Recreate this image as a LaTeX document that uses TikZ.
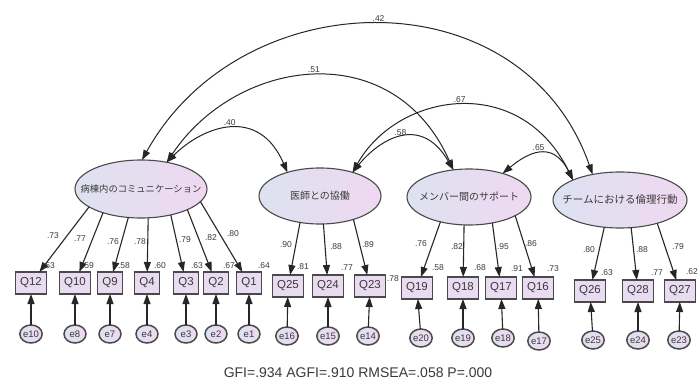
\documentclass[tikz,border=0pt]{standalone}
\usepackage{fontspec}
\setmainfont{Liberation Sans}
\newfontfamily\jfont{Noto Sans CJK JP}
\usetikzlibrary{shapes.geometric,arrows.meta,calc}
\definecolor{txt}{HTML}{3A3A3A}
\definecolor{edgec}{HTML}{4A4A4A}
\definecolor{lblue}{HTML}{DDE2F0}
\definecolor{lpink}{HTML}{EFD8F1}
\definecolor{boxfill}{HTML}{EADCF0}
\begin{document}
\begin{tikzpicture}[x=1pt,y=-1pt,
 latent/.style={ellipse,draw=edgec,line width=1.1pt,left color=lblue,right color=lpink,inner sep=0pt,outer sep=0pt},
 lattext/.style={font=\jfont\fontsize{10}{12}\selectfont,text=txt},
 obs/.style={rectangle,draw=edgec,line width=1.6pt,fill=boxfill,minimum height=22pt,inner xsep=4.8pt,inner ysep=0pt,outer sep=0pt,font=\fontsize{11.5}{13}\selectfont,text=txt},
 err/.style={ellipse,draw=edgec,line width=1.5pt,left color=lblue,right color=lpink,minimum width=22pt,minimum height=18pt,inner sep=0pt,outer sep=0pt,font=\fontsize{9.5}{10}\selectfont,text=txt},
 load/.style={draw=black!85,line width=1.1pt,-{Triangle[length=10pt,width=7pt]}},
 cov/.style={draw=black!85,line width=1pt,{Triangle[length=10pt,width=7pt]}-{Triangle[length=10pt,width=7pt]}},
 num/.style={font=\fontsize{8.5}{10}\selectfont,text=txt,inner sep=0pt},
]
\useasboundingbox (0,0) rectangle (699,385);
\fill[white] (0,0) rectangle (699,385);

% latent variables
\node[latent,minimum width=132pt,minimum height=58pt] (L1) at (141,189) {};
\node[lattext,font=\jfont\fontsize{9.3}{12}\selectfont] at (L1) {病棟内のコミュニケーション};
\node[latent,minimum width=122pt,minimum height=56pt] (L2) at (320,196) {};
\node[lattext] at (L2) {医師との協働};
\node[latent,minimum width=124pt,minimum height=56pt] (L3) at (469,197) {};
\node[lattext] at (L3) {メンバー間のサポート};
\node[latent,minimum width=134pt,minimum height=56pt] (L4) at (620,200) {};
\node[lattext,font=\jfont\fontsize{10.5}{12}\selectfont] at (L4) {チームにおける倫理行動};

% observed variables
\foreach \n/\x in {Q12/31,Q10/75,Q9/110,Q4/147,Q3/186,Q2/216,Q1/249}
  \node[obs] (\n) at (\x,283) {\n};
\foreach \n/\x in {Q25/288,Q24/328,Q23/370}
  \node[obs] (\n) at (\x,286) {\n};
\foreach \n/\x in {Q19/417,Q18/463,Q17/501,Q16/538}
  \node[obs] (\n) at (\x,288) {\n};
\foreach \n/\x in {Q26/590,Q28/638,Q27/680}
  \node[obs] (\n) at (\x,291) {\n};

% errors
\foreach \n/\x in {e10/31,e8/75,e7/110,e4/147,e3/186,e2/216,e1/249}
  \node[err] (\n) at (\x,334) {\n};
\foreach \n/\x in {e16/287,e15/328,e14/368}
  \node[err] (\n) at (\x,336) {\n};
\foreach \n/\x/\y in {e20/421/338,e19/463/338,e18/503/338,e17/539/341}
  \node[err] (\n) at (\x,\y) {\n};
\foreach \n/\x in {e25/593,e24/638,e23/679}
  \node[err] (\n) at (\x,340) {\n};

% error arrows
\foreach \e/\q in {e10/Q12,e8/Q10,e7/Q9,e4/Q4,e3/Q3,e2/Q2,e1/Q1,e16/Q25,e15/Q24,e14/Q23,e20/Q19,e19/Q18,e18/Q17,e17/Q16,e25/Q26,e24/Q28,e23/Q27}
  \draw[load] (\e) -- (\q);

% loadings
\draw[load] (L1.-161.9) -- (Q12);
\draw[load] (L1.-148) -- (Q10);
\draw[load] (L1.-114.6) -- (Q9);
\draw[load] (L1.-76.4) -- (Q4);
\draw[load] (L1.-41.9) -- (Q3);
\draw[load] (L1.-24.3) -- (Q2);
\draw[load] (L1.-12.4) -- (Q1);
\draw[load] (L2.-127) -- (Q25);
\draw[load] (L2.-83.9) -- (Q24);
\draw[load] (L2.-35.5) -- (Q23);
\draw[load] (L3.-139.5) -- (Q19);
\draw[load] (L3.-100.2) -- (Q18);
\draw[load] (L3.-48.5) -- (Q17);
\draw[load] (L3.-22.2) -- (Q16);
\draw[load] (L4.-120.5) -- (Q26);
\draw[load] (L4.-68.3) -- (Q28);
\draw[load] (L4.-32.2) -- (Q27);

% loading labels
\foreach \v/\x/\y in {.73/53/236,.77/80/239,.76/113/242,.78/140/242,.79/185/240,.82/211/238,.80/233/234,
  .90/286/245,.88/336/247,.89/368/245,
  .76/421/244,.82/457/247,.95/503/247,.86/531/244,
  .80/589/250,.88/642/250,.79/678/247}
  \node[num] at (\x,\y) {\v};
% squared multiple correlations
\foreach \v/\x/\y in {.53/49/266,.59/88/266,.58/124/266,.60/160/266,.63/197/266,.67/229/266,.64/264/266,
  .81/303/267,.77/347/268,.78/393/279,
  .58/438/268,.68/480/268,.91/517/269,.73/553/269,
  .63/607/273,.77/657/273,.62/692/272}
  \node[num] at (\x,\y) {\v};

% covariances
\draw[cov] (L1.88) .. controls +(100,-180) and +(-70,-200) .. (L4.137.8) node[num,midway,above=3pt] {.42};
\draw[cov] (L1.46) .. controls +(70,-105) and +(-60,-135) .. (L3.120.6) node[num,midway,above=3pt] {.51};
\draw[cov] (L1.46) .. controls +(36,-36) and +(-29,-67) .. (L2.144.5) node[num,midway,above=3pt] {.40};
\draw[cov] (L2.36.6) .. controls +(45,-80) and +(-53,-108) .. (L4.157.9) node[num,midway,above=3pt] {.67};
\draw[cov] (L2.36.6) .. controls +(26,-32) and +(-33,-57) .. (L3.120.6) node[num,midway,above=2pt] {.58};
\draw[cov] (L3.35.7) .. controls +(23,-19) and +(-21,-42) .. (L4.157.9) node[num,midway,above=3pt] {.65};

% fit indices
\node[font=\fontsize{14}{16}\selectfont,text=txt] (fit) at (358,373) {GFI=.934 AGFI=.910 RMSEA=.058 P=.000};
\end{tikzpicture}
\end{document}
